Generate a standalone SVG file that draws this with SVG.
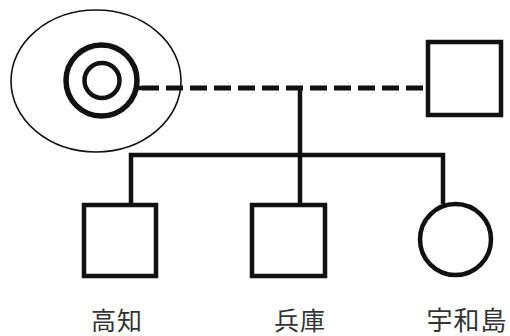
<svg xmlns="http://www.w3.org/2000/svg" width="510" height="336" viewBox="0 0 510 336">
<style>
.sym{fill:none;stroke:#111;stroke-width:4.5}
.ln{fill:none;stroke:#111;stroke-width:4.5}
.dash{fill:none;stroke:#111;stroke-width:5;stroke-dasharray:17 7}
.lbl{font-family:"Noto Sans CJK JP","Noto Sans CJK SC",sans-serif;font-size:25px;fill:#333;text-anchor:middle}
</style>
<rect width="510" height="336" fill="#fff"/>
<g id="proband">
<ellipse cx="96" cy="81" rx="85" ry="71" fill="none" stroke="#111" stroke-width="1.6"/>
<circle cx="101.5" cy="80.5" r="35.5" fill="none" stroke="#111" stroke-width="5.5"/>
<circle cx="102" cy="80.5" r="17.5" fill="none" stroke="#111" stroke-width="4.5"/>
</g>
<g id="partner">
<rect x="428" y="42" width="73" height="73" class="sym"/>
</g>
<g id="kochi">
<rect x="84" y="205" width="72" height="71" class="sym"/>
<text x="117" y="330" class="lbl" style="letter-spacing:1px">高知</text>
</g>
<g id="hyogo">
<rect x="252" y="205" width="73" height="71" class="sym"/>
<text x="300" y="330" class="lbl" style="letter-spacing:1px">兵庫</text>
</g>
<g id="uwajima">
<circle cx="455.5" cy="239.5" r="35.5" class="sym"/>
<text x="467" y="330" class="lbl" style="font-size:26px;letter-spacing:1px">宇和島</text>
</g>
<g id="connectors">
<line x1="137" y1="88" x2="142" y2="88" class="ln" stroke-width="5"/>
<line x1="142" y1="88" x2="426" y2="88" class="dash"/>
<polyline points="300,88 300,205" class="ln"/>
<polyline points="131,205 131,155 443,155 443,204" class="ln"/>
</g>
</svg>
